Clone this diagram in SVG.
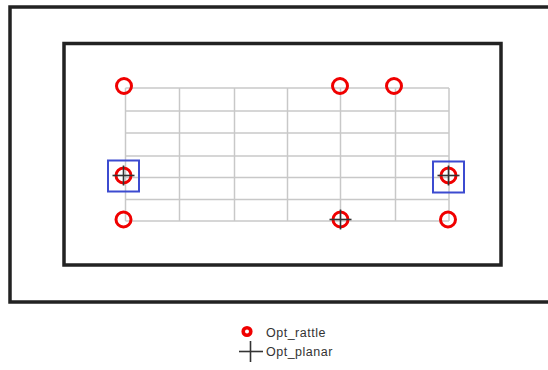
<svg xmlns="http://www.w3.org/2000/svg" width="548" height="370" viewBox="0 0 548 370">
<style>
.box{fill:none;stroke:#222;stroke-width:3.5}
.grid line{stroke:#c8c8c8;stroke-width:1.5}
.rattle{fill:none;stroke:#f00000;stroke-width:3}
.cross{stroke:#333;stroke-width:1.6}
.sel{fill:none;stroke:#3c4bd0;stroke-width:2}
.lbl{font-family:"Liberation Sans",Arial,sans-serif;font-size:12.5px;letter-spacing:0.5px;fill:#333}
</style>
<defs>
<circle id="rc" r="7.5" class="rattle"/>
<g id="cr" class="cross"><line x1="-11" y1="0" x2="11" y2="0"/><line x1="0" y1="-10" x2="0" y2="10"/></g>
</defs>
<rect id="outer" class="box" x="10" y="7" width="560" height="295"/>
<rect id="inner" class="box" x="64" y="43.5" width="437" height="221.5"/>
<g id="grid" class="grid">
<line x1="125.5" y1="88" x2="125.5" y2="221"/>
<line x1="179.5" y1="88" x2="179.5" y2="221"/>
<line x1="234.5" y1="88" x2="234.5" y2="221"/>
<line x1="287.5" y1="88" x2="287.5" y2="221"/>
<line x1="340.5" y1="88" x2="340.5" y2="221"/>
<line x1="395.5" y1="88" x2="395.5" y2="221"/>
<line x1="449" y1="88" x2="449" y2="221"/>
<line x1="125.5" y1="88" x2="449" y2="88"/>
<line x1="125.5" y1="111" x2="449" y2="111"/>
<line x1="125.5" y1="133" x2="449" y2="133"/>
<line x1="125.5" y1="156" x2="449" y2="156"/>
<line x1="125.5" y1="177.5" x2="449" y2="177.5"/>
<line x1="125.5" y1="199.5" x2="449" y2="199.5"/>
<line x1="125.5" y1="221" x2="449" y2="221"/>
</g>
<g id="p1"><use href="#rc" x="124" y="86"/></g>
<g id="p2"><use href="#rc" x="340" y="86"/></g>
<g id="p3"><use href="#rc" x="394" y="86"/></g>
<g id="p4"><use href="#rc" x="123.5" y="175.5"/><use href="#cr" x="123.5" y="175.5"/><rect class="sel" x="108" y="160.5" width="31" height="31"/></g>
<g id="p5"><use href="#rc" x="448.5" y="175.5"/><use href="#cr" x="448.5" y="175.5"/><rect class="sel" x="433" y="161.5" width="31" height="31"/></g>
<g id="p6"><use href="#rc" x="123.5" y="219.5"/></g>
<g id="p7"><use href="#rc" x="340.5" y="219.5"/><use href="#cr" x="340.5" y="219.5"/></g>
<g id="p8"><use href="#rc" x="448" y="219.5"/></g>
<g id="legend">
<circle cx="247" cy="331.5" r="3.8" fill="none" stroke="#f00000" stroke-width="3.6"/>
<text class="lbl" x="266" y="337">Opt_rattle</text>
<g class="cross"><line x1="239" y1="351.5" x2="263" y2="351.5"/><line x1="250.5" y1="341" x2="250.5" y2="362"/></g>
<text class="lbl" x="266" y="356">Opt_planar</text>
</g>
</svg>
